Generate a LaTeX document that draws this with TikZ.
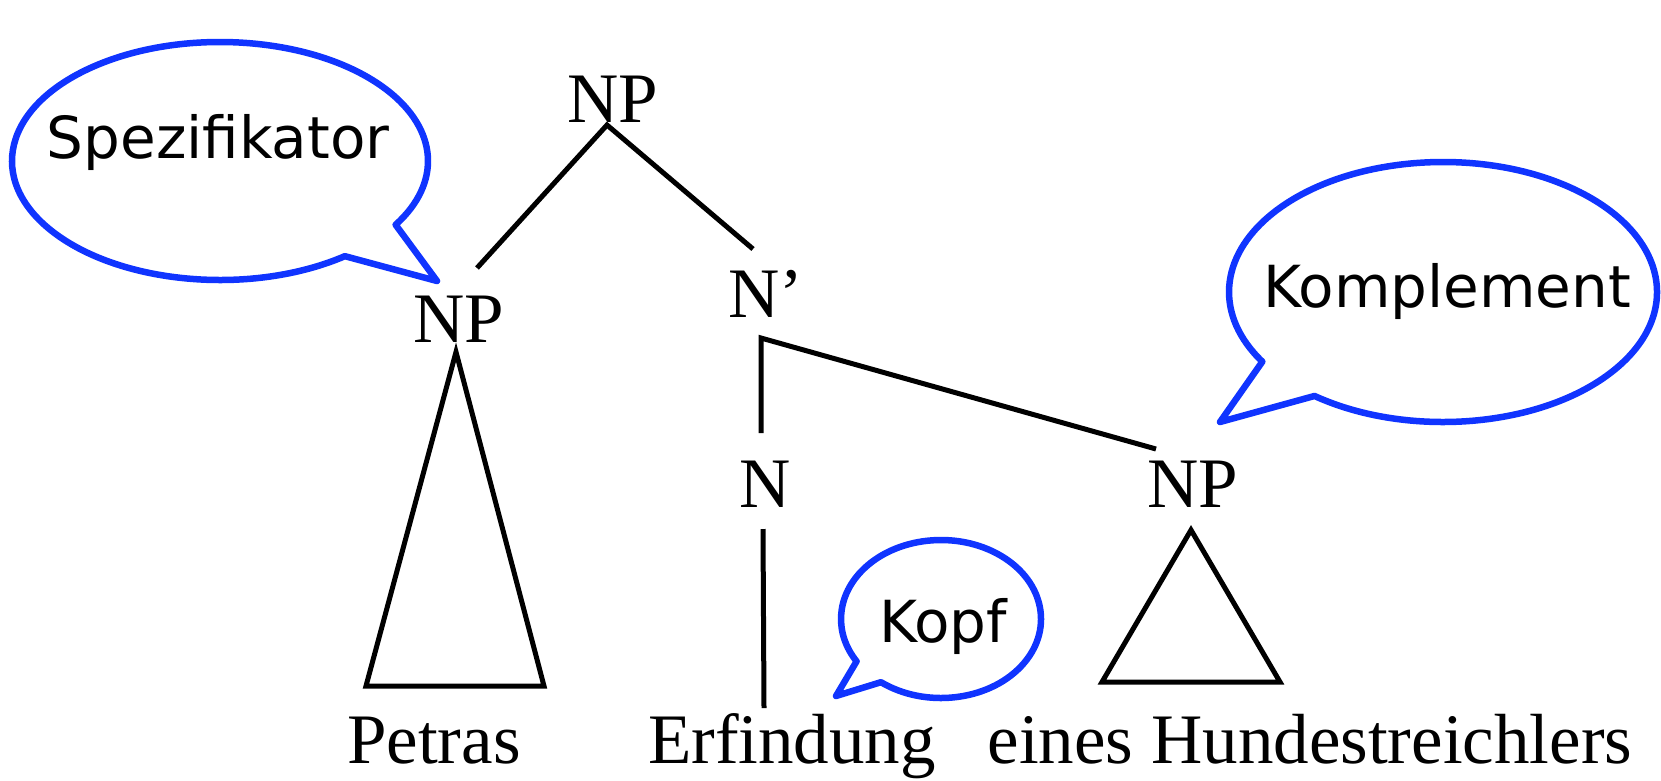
\documentclass[tikz,border=0pt]{standalone}
\usepackage{fontspec}
\setmainfont{Liberation Serif}
\newfontfamily\bubblefont{DejaVu Sans}
\definecolor{bubbleblue}{RGB}{16,52,255}
\begin{document}
\begin{tikzpicture}[x=1pt,y=-1pt,
  cat/.style={font=\fontsize{71}{80}\selectfont, inner sep=0pt, anchor=base},
  branch/.style={line width=5pt},
  roof/.style={line width=5pt, line join=miter},
  bubble/.style={draw=bubbleblue, fill=white, line width=6.5pt, line join=round},
  bubbletext/.style={font=\bubblefont\fontsize{58}{70}\selectfont, inner sep=0pt, anchor=base}]
\useasboundingbox (0,0) rectangle (1661,780);

% speech bubbles (ellipse with a pointed tail)
\draw[bubble] ([shift={(220,161)}]53.1:208 and 119)
  arc[start angle=53.1, end angle=392.4, x radius=208, y radius=119]
  -- (437,281) -- cycle;
\draw[bubble] ([shift={(1443,292)}]126.9:214 and 130)
  arc[start angle=126.9, end angle=-212.4, x radius=214, y radius=130]
  -- (1220,422) -- cycle;
\draw[bubble] ([shift={(941,619)}]126.9:100 and 79)
  arc[start angle=126.9, end angle=-212.4, x radius=100, y radius=79]
  -- (836,696) -- cycle;
\node[bubbletext] (lbl-spec) at (218,158) {Spezifikator};
\node[bubbletext] (lbl-comp) at (1447,307) {Komplement};
\node[bubbletext] (lbl-head) at (943,642) {Kopf};

% tree labels
\node[cat] (np)    at (613,122) {NP};
\node[cat] (spec)  at (459,342) {NP};
\node[cat] (nbar)  at (766,317) {N’};
\node[cat] (n)     at (765,507) {N};
\node[cat] (comp)  at (1193,507) {NP};
\node[cat] (petras) at (434,763) {Petras};
\node[cat] (erf)    at (792,763) {Erfindung};
\node[cat] (eines)  at (1310,763) {eines Hundestreichlers};

% branch attachment points
\coordinate (np-foot)   at (607,125);
\coordinate (spec-top)  at (477,268);
\coordinate (nbar-top)  at (753,249);
\coordinate (nbar-foot) at (761,338);
\coordinate (n-top)     at (761,433);
\coordinate (comp-top)  at (1156,449);
\coordinate (n-foot)    at (763,529);
\coordinate (erf-top)   at (764,708);

\draw[branch] (spec-top) -- (np-foot) -- (nbar-top);
\draw[branch] (n-top) -- (nbar-foot) -- (comp-top);
\draw[branch] (n-foot) -- (erf-top);

% roofs over unanalysed phrases
\coordinate (spec-apex) at (456,352);
\coordinate (spec-l)    at (366,686);
\coordinate (spec-r)    at (544,686);
\coordinate (comp-apex) at (1191,530);
\coordinate (comp-l)    at (1102,682);
\coordinate (comp-r)    at (1280,682);
\draw[roof] (spec-apex) -- (spec-r) -- (spec-l) -- cycle;
\draw[roof] (comp-apex) -- (comp-r) -- (comp-l) -- cycle;
\end{tikzpicture}
\end{document}
